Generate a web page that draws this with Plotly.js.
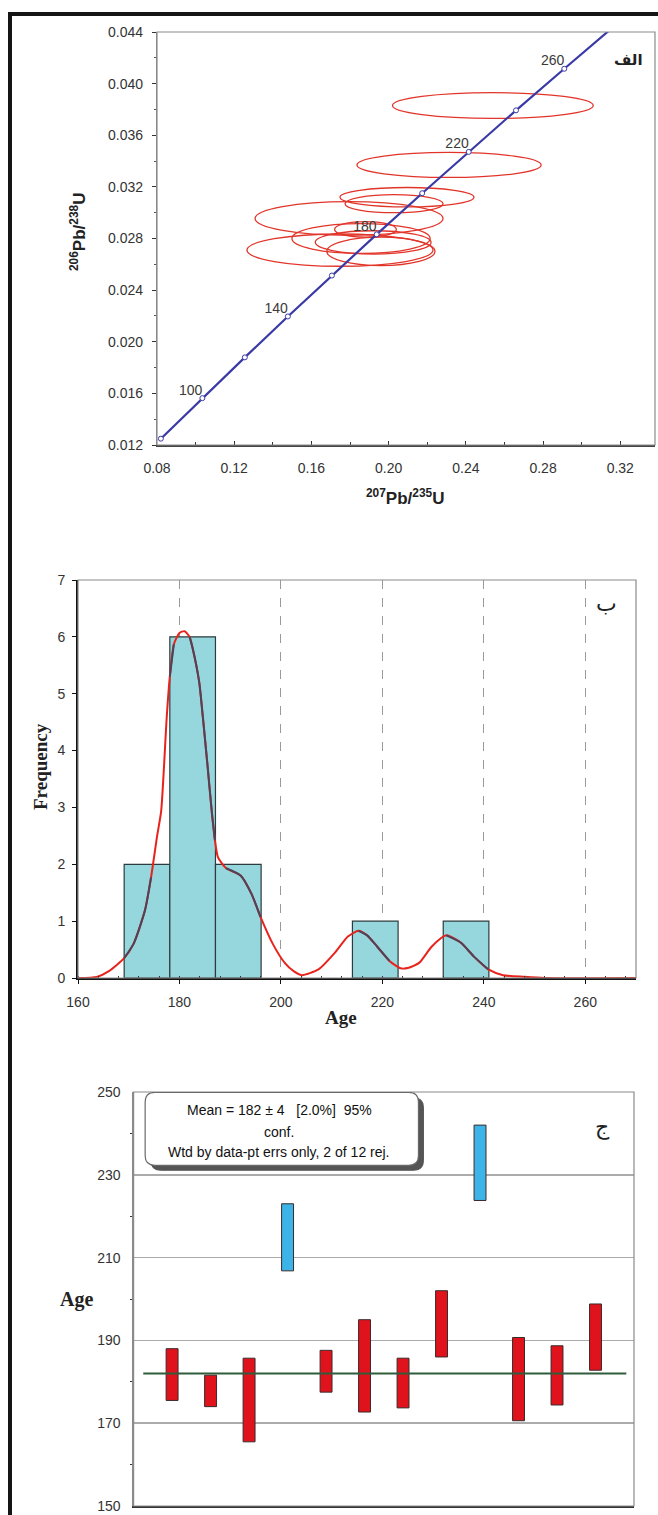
<!DOCTYPE html>
<html>
<head>
<meta charset="utf-8">
<script src="https://cdn.plot.ly/plotly-3.0.1.min.js"></script>
<style>html,body{margin:0;padding:0;background:#fff;}#chart{width:658px;height:1515px;}</style>
</head>
<body>
<div id="chart"></div>
<script>
// ---------- Panel الف : concordia ----------
const concAges = [80, 100, 120, 140, 160, 180, 200, 220, 240, 260, 280];
const concX = [0.0820, 0.1035, 0.1255, 0.1478, 0.1706, 0.1938, 0.2174, 0.2415, 0.2660, 0.2910, 0.3163];
const concY = [0.01249, 0.01563, 0.01879, 0.02196, 0.02513, 0.02832, 0.03151, 0.03471, 0.03793, 0.04115, 0.04438];
const markedAges = [80, 100, 120, 140, 160, 180, 200, 220, 240, 260];
const labelledAges = [100, 140, 180, 220, 260];

const ellCx = [0.2540, 0.2313, 0.2095, 0.2028, 0.1795, 0.1748, 0.1857, 0.1960, 0.1880, 0.1920];
const ellCy = [0.0383, 0.0337, 0.0312, 0.0307, 0.02955, 0.0271, 0.0280, 0.0270, 0.0287, 0.0277];
const ellA  = [0.0520, 0.0477, 0.0347, 0.0254, 0.0487, 0.0482, 0.0358, 0.0280, 0.0160, 0.0300];
const ellB  = [0.00100, 0.00097, 0.00075, 0.00070, 0.00130, 0.00125, 0.00116, 0.00110, 0.00060, 0.00090];

// ---------- Panel ب : histogram ----------
const binCenters = [173.6, 182.6, 191.6, 218.6, 236.5];
const binCounts = [2, 6, 2, 1, 1];
const binWidth = 9;
const pdfAge = [160, 163.7, 166.1, 169.1, 171, 173.2, 174.4, 175.6, 176.4, 177.5, 178.1, 178.9, 180, 181, 182, 182.6, 183.9, 184.6, 185.5, 186.4, 187, 187.6, 189.2, 192.1, 194.2, 196, 198.4, 200.8, 202.5, 204.1, 207.4, 210.7, 213.2, 215.3, 217, 219, 221.4, 223.6, 225.2, 227.3, 229.7, 232.6, 235.5, 238, 240.9, 243.8, 248, 252, 270];
const pdfVal = [0.0, 0.02, 0.12, 0.35, 0.61, 1.19, 1.77, 2.5, 2.94, 4.6, 5.3, 5.87, 6.07, 6.1, 6.0, 5.8, 5.2, 4.6, 3.77, 2.9, 2.42, 2.12, 1.93, 1.8, 1.48, 1.07, 0.6, 0.26, 0.12, 0.05, 0.15, 0.45, 0.73, 0.83, 0.75, 0.55, 0.3, 0.17, 0.18, 0.27, 0.55, 0.75, 0.62, 0.38, 0.15, 0.05, 0.02, 0.0, 0.0];

// ---------- Panel ج : weighted mean ----------
const spotIdx = [1, 2, 3, 4, 5, 6, 7, 8, 9, 10, 11, 12];
const ageLow  = [175.5, 174.0, 165.5, 206.8, 177.5, 172.7, 173.7, 186.0, 223.8, 170.6, 174.4, 182.8];
const ageHigh = [188.0, 181.6, 185.7, 223.0, 187.6, 195.0, 185.7, 202.0, 242.0, 190.7, 188.7, 198.8];
const rejected = [false, false, false, true, false, false, false, false, true, false, false, false];
const meanAge = 182;
const meanText = ["Mean = 182 \u00b1 4\u00a0\u00a0\u00a0[2.0%]\u00a0\u00a095%", "conf.", "Wtd by data-pt errs only, 2 of 12 rej."];

// ---------- geometry helpers ----------
const W = 658, H = 1515;
const px = v => v / W;
const py = v => 1 - v / H;

const traces = [];

// concordia line
traces.push({x: concX, y: concY, xaxis: 'x', yaxis: 'y', mode: 'lines', type: 'scatter',
  line: {color: '#3a3aa6', width: 2.2}, hoverinfo: 'skip', showlegend: false});
const mIdx = concAges.map((a, i) => markedAges.includes(a) ? i : -1).filter(i => i >= 0);
traces.push({x: mIdx.map(i => concX[i]), y: mIdx.map(i => concY[i]), xaxis: 'x', yaxis: 'y', mode: 'markers', type: 'scatter',
  marker: {symbol: 'circle', size: 5, color: '#ffffff', line: {color: '#3a3aa6', width: 1}}, showlegend: false});
const lIdx = concAges.map((a, i) => labelledAges.includes(a) ? i : -1).filter(i => i >= 0);
traces.push({x: lIdx.map(i => concX[i]), y: lIdx.map(i => concY[i]), text: lIdx.map(i => String(concAges[i])),
  xaxis: 'x', yaxis: 'y', mode: 'text', type: 'scatter', textposition: 'top left',
  textfont: {family: 'Liberation Sans, Arial', size: 14, color: '#3a3a3a'}, showlegend: false});

// PDF curve (red, below bars)
traces.push({x: pdfAge, y: pdfVal, xaxis: 'x2', yaxis: 'y2', mode: 'lines', type: 'scatter',
  line: {color: '#e8231c', width: 2, shape: 'spline', smoothing: 0.6}, showlegend: false});
// bars
traces.push({x: binCenters, y: binCounts, width: binCenters.map(() => binWidth), xaxis: 'x2', yaxis: 'y2', type: 'bar',
  marker: {color: '#96d6dd', line: {color: '#2c3b3d', width: 1.2}}, showlegend: false});
// curve portion seen through bars (dark)
const darkY = pdfAge.map((a, i) => {
  for (let k = 0; k < binCenters.length; k++) {
    if (a >= binCenters[k] - binWidth / 2 && a <= binCenters[k] + binWidth / 2 && pdfVal[i] <= binCounts[k] + 0.05) return pdfVal[i];
  }
  return null;
});
traces.push({x: pdfAge, y: darkY, xaxis: 'x2', yaxis: 'y2', mode: 'lines', type: 'scatter', connectgaps: false,
  line: {color: '#4e4358', width: 2, shape: 'spline', smoothing: 0.6}, showlegend: false});

// weighted mean line
traces.push({x: [0.25, 12.8], y: [meanAge, meanAge], xaxis: 'x3', yaxis: 'y3', mode: 'lines', type: 'scatter',
  line: {color: '#2f5c3a', width: 2}, showlegend: false});
// age error bars
traces.push({x: spotIdx, base: ageLow, y: ageHigh.map((h, i) => h - ageLow[i]), xaxis: 'x3', yaxis: 'y3', type: 'bar',
  width: spotIdx.map(() => 0.31),
  marker: {color: rejected.map(r => r ? '#3db4e8' : '#e0121c'), line: {color: '#3a2a2a', width: 1}}, showlegend: false});

const shapes = [];
for (let i = 0; i < ellCx.length; i++) {
  shapes.push({type: 'circle', xref: 'x', yref: 'y', layer: 'below',
    x0: ellCx[i] - ellA[i], x1: ellCx[i] + ellA[i], y0: ellCy[i] - ellB[i], y1: ellCy[i] + ellB[i],
    line: {color: '#e2352a', width: 1.3}, fillcolor: 'rgba(0,0,0,0)'});
}
// panel frames (gray top/right)
const frames = [
  {x0: 157, x1: 655, y0: 32, y1: 445},
  {x0: 78, x1: 636, y0: 580, y1: 978},
  {x0: 133.6, x1: 634, y0: 1092, y1: 1506}
];
frames.forEach(f => shapes.push({type: 'rect', xref: 'paper', yref: 'paper', layer: 'above',
  x0: px(f.x0), x1: px(f.x1), y0: py(f.y1), y1: py(f.y0), line: {color: '#8a8a8a', width: 1.2}}));

// rounded info box in panel ج
function rounded(x0, x1, y0, y1, rx, ry) {
  return `M${x0 + rx},${y1} L${x1 - rx},${y1} Q${x1},${y1} ${x1},${y1 - ry} L${x1},${y0 + ry} Q${x1},${y0} ${x1 - rx},${y0} ` +
         `L${x0 + rx},${y0} Q${x0},${y0} ${x0},${y0 + ry} L${x0},${y1 - ry} Q${x0},${y1} ${x0 + rx},${y1} Z`;
}
shapes.push({type: 'path', xref: 'x3', yref: 'y3', layer: 'above', path: rounded(0.45, 7.53, 231.1, 248.6, 0.25, 2.3),
  fillcolor: '#555555', line: {color: '#555555', width: 1}});
shapes.push({type: 'path', xref: 'x3', yref: 'y3', layer: 'above', path: rounded(0.30, 7.40, 232.3, 249.9, 0.25, 2.3),
  fillcolor: '#ffffff', line: {color: '#6a6a6a', width: 1.2}});
// outer black frame
shapes.push({type: 'line', xref: 'paper', yref: 'paper', x0: px(10), x1: px(10), y0: 0, y1: py(12), line: {color: '#151515', width: 4}});
shapes.push({type: 'line', xref: 'paper', yref: 'paper', x0: px(8), x1: 1, y0: py(14), y1: py(14), line: {color: '#151515', width: 4}});

const tickFont = {family: 'Liberation Sans, Arial', size: 14, color: '#333'};
const ann = [];
const pa = (x, y, text, font, extra) => ann.push(Object.assign({xref: 'paper', yref: 'paper', x: px(x), y: py(y), text: text,
  showarrow: false, xanchor: 'center', yanchor: 'middle', font: font}, extra || {}));
pa(78, 232, '<b><sup>206</sup>Pb/<sup>238</sup>U</b>', {family: 'Liberation Sans, Arial', size: 17, color: '#222'}, {textangle: -90});
pa(405, 497, '<b><sup>207</sup>Pb/<sup>235</sup>U</b>', {family: 'Liberation Sans, Arial', size: 17, color: '#222'});
pa(40, 767, '<b>Frequency</b>', {family: 'Liberation Serif, Times New Roman', size: 19, color: '#222'}, {textangle: -90});
pa(341, 1017, '<b>Age</b>', {family: 'Liberation Serif, Times New Roman', size: 19, color: '#222'});
pa(76, 1299, '<b>Age</b>', {family: 'Liberation Serif, Times New Roman', size: 20, color: '#222'});
pa(628, 60, '<b>الف</b>', {family: 'DejaVu Sans', size: 15, color: '#222'});
pa(606, 603, 'ب', {family: 'DejaVu Sans', size: 22, color: '#222'});
pa(602, 1127, 'ج', {family: 'DejaVu Sans', size: 22, color: '#222'});
const boxY = [245.6, 240.3, 235.5];
meanText.forEach((t, i) => ann.push({xref: 'x3', yref: 'y3', x: 3.79, y: boxY[i], text: t, showarrow: false,
  xanchor: 'center', yanchor: 'middle', font: {family: 'Liberation Sans, Arial', size: 14, color: '#111'}}));

const layout = {
  width: W, height: H, margin: {l: 0, r: 0, t: 0, b: 0}, paper_bgcolor: '#fff', plot_bgcolor: '#fff',
  showlegend: false, barmode: 'overlay',
  xaxis: {domain: [px(157), px(655)], range: [0.08, 0.338], anchor: 'y', tick0: 0.08, dtick: 0.04, tickformat: '.2f',
    ticks: 'inside', ticklen: 4, tickcolor: '#333', showgrid: false, zeroline: false, showline: true, linecolor: '#444', linewidth: 1.5,
    minor: {dtick: 0.02, ticks: 'inside', ticklen: 3, tickcolor: '#333'}, tickfont: tickFont, ticklabelstandoff: 10},
  yaxis: {domain: [py(445), py(32)], range: [0.012, 0.044], anchor: 'x', tick0: 0.012, dtick: 0.004, tickformat: '.3f',
    ticks: 'outside', ticklen: 4, tickcolor: '#333', showgrid: false, zeroline: false, showline: true, linecolor: '#888', linewidth: 1.2,
    minor: {dtick: 0.002, ticks: 'outside', ticklen: 2, tickcolor: '#555'}, tickfont: tickFont, ticklabelstandoff: 6},
  xaxis2: {domain: [px(78), px(636)], range: [160, 270], anchor: 'y2', tick0: 160, dtick: 20,
    ticks: 'outside', ticklen: 4, tickcolor: '#111', showgrid: true, gridcolor: '#9a9a9a', griddash: 'dash', gridwidth: 1,
    zeroline: false, showline: true, linecolor: '#111', linewidth: 1.8,
    minor: {dtick: 4, ticks: 'inside', ticklen: 2, tickcolor: '#333', showgrid: false}, tickfont: tickFont, ticklabelstandoff: 6},
  yaxis2: {domain: [py(978), py(580)], range: [0, 7], anchor: 'x2', dtick: 1, ticks: 'outside', ticklen: 4, tickcolor: '#111',
    showgrid: false, zeroline: false, showline: true, linecolor: '#111', linewidth: 1.8, tickfont: tickFont, ticklabelstandoff: 4},
  xaxis3: {domain: [px(133.6), px(634)], range: [0, 13], anchor: 'y3', showticklabels: false, ticks: '', showgrid: false,
    zeroline: false, showline: true, linecolor: '#333', linewidth: 2},
  yaxis3: {domain: [py(1506), py(1092)], range: [150, 250], anchor: 'x3', tick0: 150, dtick: 20, ticks: '',
    showgrid: true, gridcolor: '#ababab', gridwidth: 1.5, zeroline: false, showline: true, linecolor: '#8a8a8a', linewidth: 1.2,
    minor: {dtick: 10, ticks: 'outside', ticklen: 2, tickcolor: '#333', showgrid: false}, tickfont: tickFont, ticklabelstandoff: 9},
  shapes: shapes, annotations: ann
};
Plotly.newPlot('chart', traces, layout, {staticPlot: true, displayModeBar: false});
</script>
</body>
</html>
